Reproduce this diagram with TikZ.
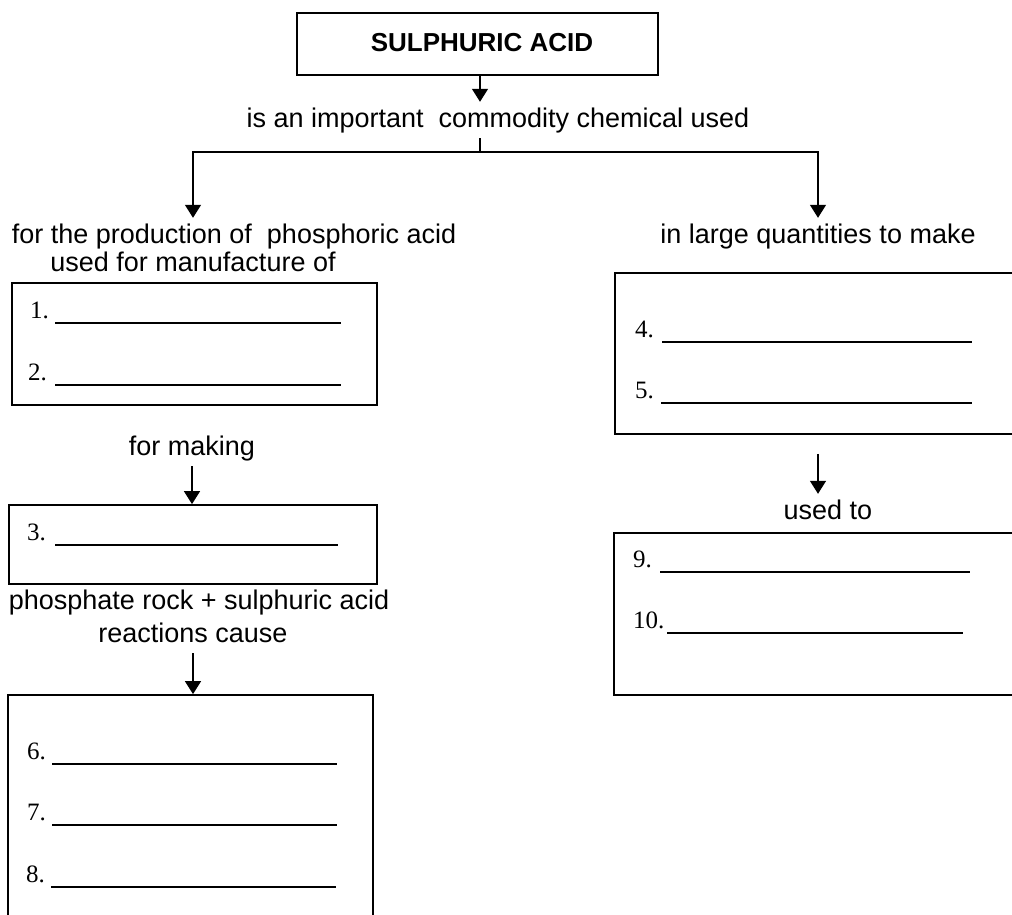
\documentclass[tikz,border=0pt]{standalone}
\usepackage{fontspec}
\setmainfont{Liberation Sans}
\newfontfamily\numfont{Liberation Serif}
\usetikzlibrary{arrows.meta}
\tikzset{
  box/.style={draw, line width=1.8pt, inner sep=0pt},
  txt/.style={font=\fontsize{27}{30}\selectfont, inner xsep=0pt, inner ysep=6pt,
    text height=19pt, text depth=5pt},
  num/.style={font=\numfont\fontsize{25}{28}\selectfont, inner sep=0pt},
  blank/.style={line width=1.6pt},
  arr/.style={line width=1.4pt, -{Triangle[length=13pt,width=16pt]}}
}
\newcommand{\myitem}[5]
{
\node[num, anchor=base west] (num#1) at (#2,#3) {#1.};
\draw[blank] (#4,#3+5) -- (#5,#3+5);
}

\begin{document}
\begin{tikzpicture}[x=1pt,y=-1pt]
  \useasboundingbox (0,0) rectangle (1012,914);
  \clip (0,0) rectangle (1012,914);

  \node[box, minimum width=361pt, minimum height=62pt] (acid) at (477.5,44) {};
  \node[font=\bfseries\fontsize{26}{30}\selectfont, anchor=base] (acidname) at (482,51) {SULPHURIC ACID};

  \node[txt, anchor=base] (used) at (498,127) {is an important\ \ commodity chemical used};
  \coordinate (fork) at (480,152);
  \draw[arr] (acid.south -| fork) -- (used.north -| fork);
  \draw[line width=1.4pt] (used.south -| fork) -- (fork);

  \node[txt, anchor=base] (prod1) at (234,243) {for the production of\ \ phosphoric acid};
  \node[txt, anchor=base] (prod2) at (193,271) {used for manufacture of};
  \node[txt, anchor=base] (large) at (818,243) {in large quantities to make};
  \draw[arr] (fork) -| (prod2 |- prod1.north);
  \draw[arr] (fork) -| (large.north);

  \node[box, minimum width=365pt, minimum height=122pt] (box12) at (194.5,344) {};
  \myitem{1}{30}{318}{55}{341}
  \myitem{2}{28}{380}{55}{341}

  \node[txt, anchor=base] (making) at (192,455) {for making};
  \node[box, minimum width=368pt, minimum height=79pt] (box3) at (193,544.5) {};
  \draw[arr] (making.south) -- (making.south |- box3.north);
  \myitem{3}{27}{540}{55}{338}

  \node[txt, anchor=base] (rock) at (199,609) {phosphate rock + sulphuric acid};
  \node[txt, anchor=base] (cause) at (193,642) {reactions cause};
  \node[box, minimum width=365pt, minimum height=260pt] (box678) at (190.5,825) {};
  \draw[arr] (cause.south) -- (cause.south |- box678.north);
  \myitem{6}{27}{759}{52}{337}
  \myitem{7}{27}{820}{52}{337}
  \myitem{8}{26}{882}{51}{336}

  \node[box, minimum width=425pt, minimum height=161pt] (box45) at (827.5,353.5) {};
  \myitem{4}{635}{337}{662}{972}
  \myitem{5}{635}{398}{661}{972}

  \node[txt, anchor=base] (usedto) at (828,519) {used to};
  \draw[arr, shorten <=19pt] (box45.south -| large) -- (usedto.north -| large);

  \node[box, minimum width=426pt, minimum height=162pt] (box910) at (827,614) {};
  \myitem{9}{633}{567}{660}{970}
  \myitem{10}{633}{628}{667}{963}
\end{tikzpicture}
\end{document}
